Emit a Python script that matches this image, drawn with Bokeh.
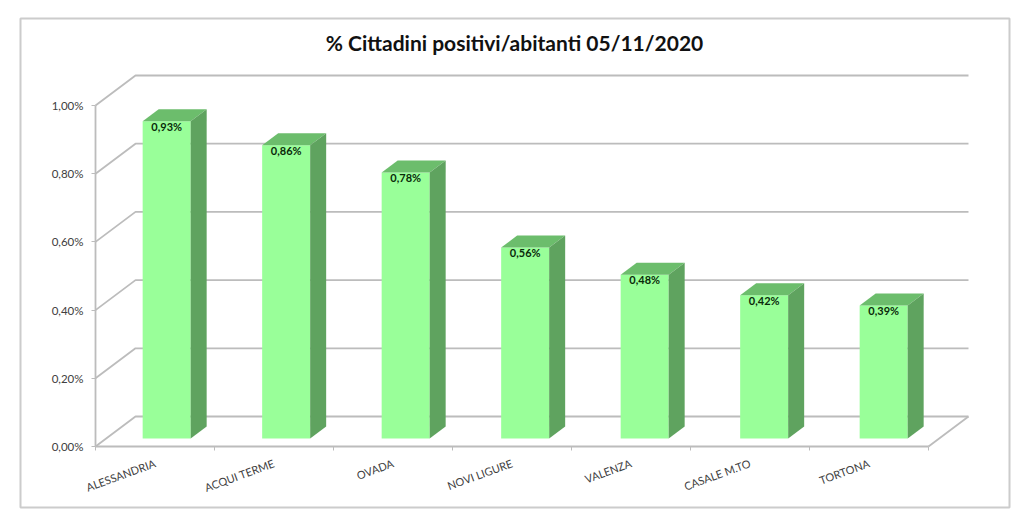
from math import radians
from bokeh.plotting import figure
from bokeh.models import Range1d, FixedTicker, Label
from bokeh.core.properties import value
from bokeh.embed import file_html
from bokeh.resources import INLINE

TITLE = "% Cittadini positivi/abitanti 05/11/2020"
categories = ["ALESSANDRIA", "ACQUI TERME", "OVADA", "NOVI LIGURE", "VALENZA", "CASALE M.TO", "TORTONA"]
percent = [0.93, 0.86, 0.78, 0.56, 0.48, 0.42, 0.39]
bar_labels = ["0,93%", "0,86%", "0,78%", "0,56%", "0,48%", "0,42%", "0,39%"]
y_ticks = [0.0, 0.2, 0.4, 0.6, 0.8, 1.0]
y_tick_labels = ["0,00%", "0,20%", "0,40%", "0,60%", "0,80%", "1,00%"]

FONT = "Lato"
GRID = "#bcbcbc"
PXU = 119.0   # pixels per category
PXV = 341.0   # pixels per 100 %
X0, Y0 = 95.0, 446.0  # pixel of the chart's origin
L, R, T, B = 20, 1009, 18, 507  # frame box

W, H = 1016, 519
p = figure(width=W, height=H, output_backend="svg", toolbar_location=None,
           x_range=Range1d((L - X0) / PXU, (R - X0) / PXU),
           y_range=Range1d((Y0 - B) / PXV, (Y0 - T) / PXV),
           min_border_left=L, min_border_right=W - R,
           min_border_top=T, min_border_bottom=H - B,
           background_fill_color="white", border_fill_color="white")
p.outline_line_color = "#cccccc"
p.outline_line_width = 2
p.grid.visible = False

# 3D depth of the walls and of the bars
DX, DY = 40 / PXU, 30 / PXV
BDX, BDY = 16 / PXU, 12 / PXV
n = len(categories)

# walls: each gridline runs back from the front axis and along the back wall
p.multi_line([[0, DX, n + DX] for _ in y_ticks],
             [[v, v + DY, v + DY] for v in y_ticks],
             line_color=GRID, line_width=1.8)
p.line([n, n + DX], [0, DY], line_color=GRID, line_width=1.8)

# bars
OFF, BW = 8 / PXV, 48 / PXU
STEP = 119.5 / PXU
left = [0.5 + 0.098 - BW / 2 + i * STEP for i in range(n)]
right = [a + BW for a in left]
base = OFF
tops = [base + v for v in percent]
p.quad(left=left, right=right, bottom=base, top=tops, fill_color="#99ff99", line_color=None)
p.patches([[a, a + BDX, b + BDX, b] for a, b in zip(left, right)],
          [[t, t + BDY, t + BDY, t] for t in tops],
          fill_color="#6cbd6c", line_color=None)
p.patches([[b, b + BDX, b + BDX, b] for b in right],
          [[base, base + BDY, t + BDY, t] for t in tops],
          fill_color="#5fa35f", line_color=None)

p.text([(a + b) / 2 for a, b in zip(left, right)], [t - 5 / PXV for t in tops], text=bar_labels,
       text_font=value(FONT), text_font_size="11px", text_font_style="bold",
       text_color="#0a2a0a", text_align="center", text_baseline="middle")

# axes sitting on the front plane
ax = p.xaxis[0]
ax.fixed_location = 0
ax.bounds = (0, n)
ax.ticker = FixedTicker(ticks=[i + 0.5 for i in range(n)], minor_ticks=list(range(n + 1)))
ax.major_label_overrides = {i + 0.5: c for i, c in enumerate(categories)}
ax.major_label_orientation = radians(20)
ax.major_label_standoff = 10
ax.major_label_text_font = FONT
ax.major_label_text_font_size = "11px"
ax.major_label_text_color = "#404040"
ax.major_tick_line_color = None
ax.minor_tick_line_color = GRID
ax.minor_tick_line_width = 1
ax.minor_tick_out = 4
ax.minor_tick_in = 0
ax.axis_line_color = GRID
ax.axis_line_width = 1.8

ay = p.yaxis[0]
ay.fixed_location = 0
ay.bounds = (0, 1)
ay.ticker = FixedTicker(ticks=y_ticks)
ay.major_label_overrides = dict(zip(y_ticks, y_tick_labels))
ay.major_label_standoff = 8
ay.major_label_text_font = FONT
ay.major_label_text_font_size = "11.5px"
ay.major_label_text_color = "#404040"
ay.major_tick_line_color = GRID
ay.major_tick_out = 4
ay.major_tick_in = 0
ay.minor_tick_line_color = None
ay.axis_line_color = GRID
ay.axis_line_width = 1.8

p.add_layout(Label(x=(514 - X0) / PXU, y=(Y0 - 42) / PXV, text=TITLE, text_align="center",
                   text_baseline="middle", text_font=FONT, text_font_size="21px",
                   text_font_style="bold", text_color="#111111"))

open("out.html", "w").write(file_html(p, INLINE))
